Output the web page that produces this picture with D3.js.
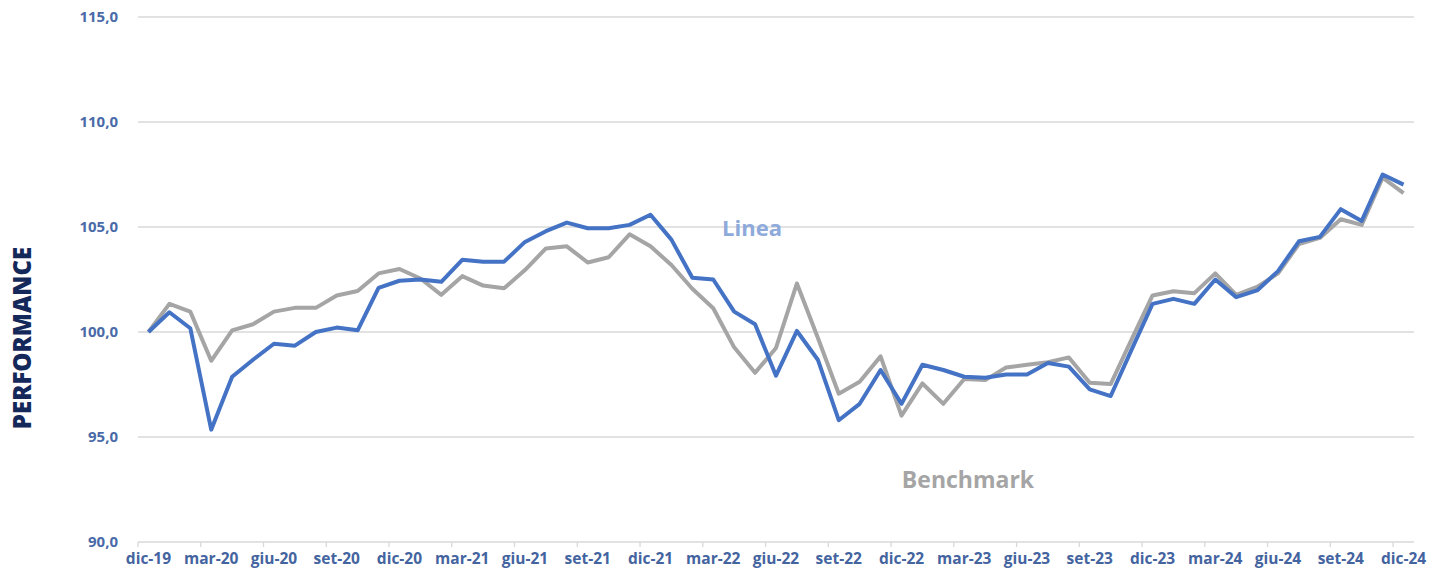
<!DOCTYPE html>
<html>
<head>
<meta charset="utf-8">
<script src="https://cdn.jsdelivr.net/npm/d3@7"></script>
<style>
  body { margin: 0; background: #fff; }
  text { font-family: "Open Sans", "DejaVu Sans", sans-serif; }
</style>
</head>
<body>
<div id="chart"></div>
<script>
// monthly categories
const months = [
  "dic-19","gen-20","feb-20","mar-20","apr-20","mag-20","giu-20","lug-20","ago-20","set-20","ott-20","nov-20",
  "dic-20","gen-21","feb-21","mar-21","apr-21","mag-21","giu-21","lug-21","ago-21","set-21","ott-21","nov-21",
  "dic-21","gen-22","feb-22","mar-22","apr-22","mag-22","giu-22","lug-22","ago-22","set-22","ott-22","nov-22",
  "dic-22","gen-23","feb-23","mar-23","apr-23","mag-23","giu-23","lug-23","ago-23","set-23","ott-23","nov-23",
  "dic-23","gen-24","feb-24","mar-24","apr-24","mag-24","giu-24","lug-24","ago-24","set-24","ott-24","nov-24",
  "dic-24"
];

const xTickLabels = months.filter((m, i) => i % 3 === 0);
const yTicks = [90, 95, 100, 105, 110, 115];

const linea = [
  100.0, 100.94, 100.18, 95.35, 97.87, 98.68, 99.44, 99.35, 100.0, 100.21, 100.08, 102.1,
  102.44, 102.5, 102.39, 103.44, 103.35, 103.35, 104.29, 104.8, 105.21, 104.94, 104.94, 105.1,
  105.58, 104.4, 102.58, 102.5, 100.97, 100.37, 97.92, 100.05, 98.68, 95.8, 96.58, 98.19,
  96.58, 98.44, 98.19, 97.87, 97.82, 97.98, 97.98, 98.52, 98.35, 97.27, 96.95, 99.16,
  101.34, 101.58, 101.34, 102.5, 101.66, 101.98, 102.9, 104.32, 104.53, 105.85, 105.29, 107.5,
  107.02
];

const benchmark = [
  100.0, 101.34, 100.97, 98.63, 100.08, 100.37, 100.97, 101.15, 101.15, 101.74, 101.95, 102.79,
  103.0, 102.55, 101.77, 102.66, 102.21, 102.08, 102.95, 103.98, 104.08, 103.31, 103.56, 104.65,
  104.08, 103.19, 102.06, 101.13, 99.27, 98.06, 99.24, 102.31, 99.73, 97.06, 97.63, 98.84,
  96.02, 97.55, 96.58, 97.76, 97.71, 98.31, 98.44, 98.56, 98.79, 97.58, 97.52, 99.65,
  101.74, 101.94, 101.85, 102.79, 101.77, 102.15, 102.79, 104.19, 104.48, 105.37, 105.1, 107.35,
  106.61
];

const width = 1444;
const height = 573;
const margin = { top: 17, right: 30, bottom: 31, left: 138 };

const svg = d3.select("#chart")
  .append("svg")
  .attr("width", width)
  .attr("height", height);

const x = d3.scaleBand()
  .domain(months)
  .range([margin.left, width - margin.right])
  .padding(0);

const y = d3.scaleLinear()
  .domain([90, 115])
  .range([height - margin.bottom, margin.top]);

const cx = d => x(d) + x.bandwidth() / 2;

// gridlines
svg.append("g")
  .selectAll("line")
  .data(yTicks.filter(v => v !== 90))
  .enter()
  .append("line")
  .attr("x1", margin.left)
  .attr("x2", width - margin.right)
  .attr("y1", d => y(d))
  .attr("y2", d => y(d))
  .attr("stroke", "#d9d9d9")
  .attr("stroke-width", 1.3);

// y axis labels
const yAxis = svg.append("g")
  .attr("transform", `translate(${margin.left - 17},0)`)
  .call(d3.axisLeft(y).tickValues(yTicks).tickSize(0)
    .tickFormat(d => d.toFixed(1).replace(".", ",")));
yAxis.select(".domain").remove();
yAxis.selectAll("text")
  .attr("fill", "#4a6aa8")
  .style("font-size", "15px")
  .style("font-weight", "700")
  .attr("dx", 0);

// x axis line and ticks
svg.append("line")
  .attr("x1", margin.left)
  .attr("x2", width - margin.right)
  .attr("y1", y(90))
  .attr("y2", y(90))
  .attr("stroke", "#d9d9d9")
  .attr("stroke-width", 1.3);

svg.append("g")
  .selectAll("line")
  .data(xTickLabels)
  .enter()
  .append("line")
  .attr("x1", d => x(d))
  .attr("x2", d => x(d))
  .attr("y1", y(90))
  .attr("y2", y(90) + 5)
  .attr("stroke", "#d9d9d9")
  .attr("stroke-width", 1.3);

const xAxis = svg.append("g")
  .attr("transform", `translate(0,${y(90) + 8})`)
  .call(d3.axisBottom(x).tickValues(xTickLabels).tickSize(0));
xAxis.select(".domain").remove();
xAxis.selectAll("text")
  .attr("fill", "#44649f")
  .style("font-size", "15.5px")
  .style("font-weight", "700");

// lines
const line = d3.line()
  .x((d, i) => cx(months[i]))
  .y(d => y(d));

svg.append("path")
  .datum(benchmark)
  .attr("fill", "none")
  .attr("stroke", "#a5a5a5")
  .attr("stroke-width", 4)
  .attr("stroke-linejoin", "round")
  .attr("d", line);

svg.append("path")
  .datum(linea)
  .attr("fill", "none")
  .attr("stroke", "#4472c4")
  .attr("stroke-width", 4)
  .attr("stroke-linejoin", "round")
  .attr("d", line);

// series labels
svg.append("text")
  .attr("x", 752)
  .attr("y", 236)
  .attr("text-anchor", "middle")
  .attr("fill", "#8eaadb")
  .style("font-size", "22px")
  .style("font-weight", "700")
  .text("Linea");

svg.append("text")
  .attr("x", 968)
  .attr("y", 488)
  .attr("text-anchor", "middle")
  .attr("fill", "#a5a5a5")
  .style("font-size", "23px")
  .style("font-weight", "700")
  .text("Benchmark");

// y axis title
svg.append("text")
  .attr("transform", "translate(31,338) rotate(-90)")
  .attr("text-anchor", "middle")
  .attr("fill", "#14285a")
  .style("font-size", "24px")
  .style("font-weight", "800")
  .text("PERFORMANCE");
</script>
</body>
</html>
